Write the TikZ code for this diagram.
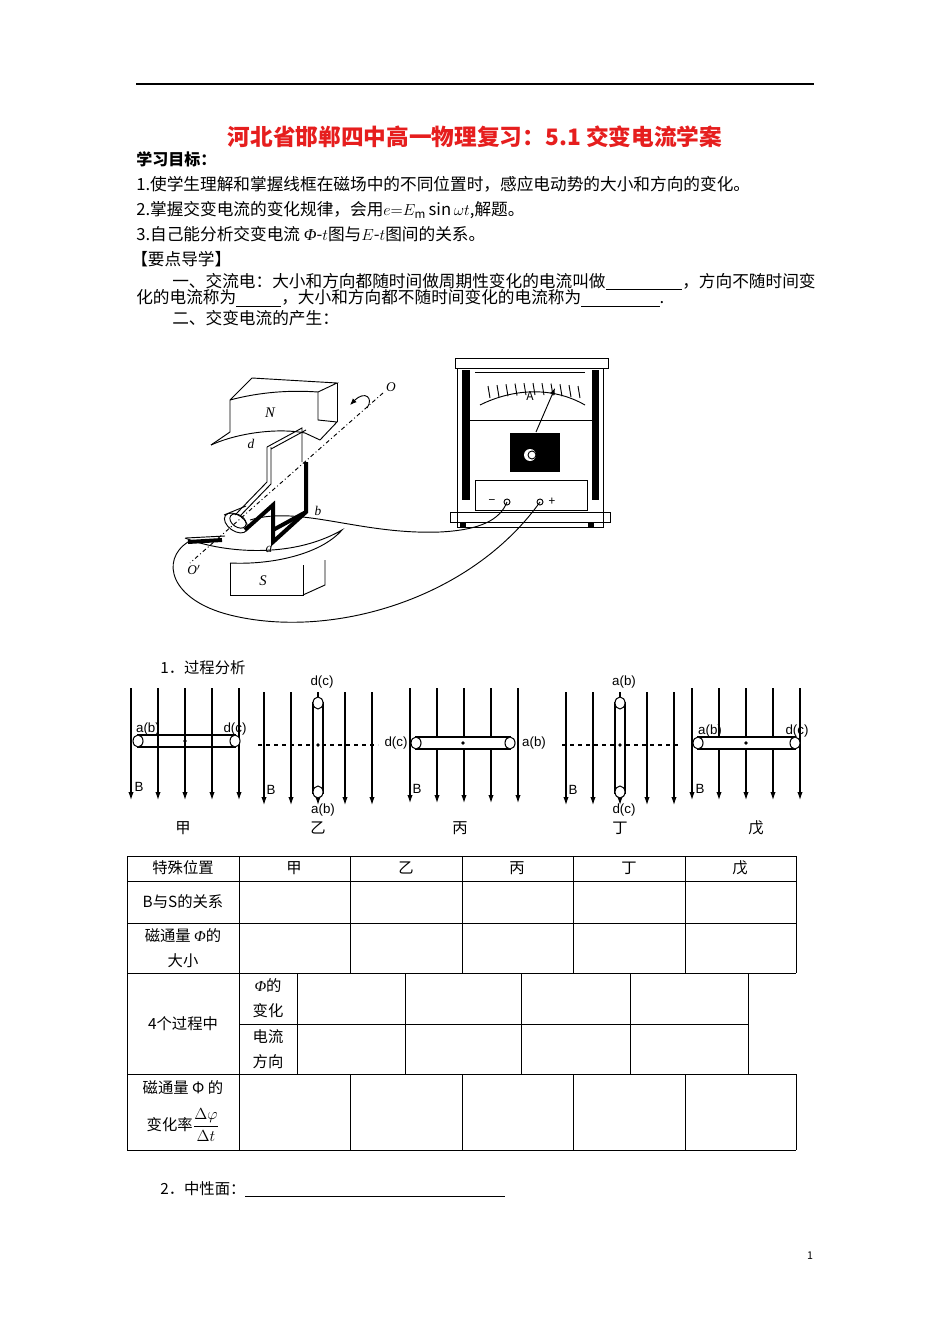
\documentclass[tikz,border=0pt]{standalone}
\usepackage{amsmath}
\usepackage{fontspec}
\setmainfont{Noto Sans CJK SC}
\newfontfamily\latinfont{Liberation Sans}
\newfontfamily\serifit{Liberation Serif}
\usetikzlibrary{arrows.meta}
\definecolor{titlered}{RGB}{230,30,30}
\newcommand{\myPhi}{{\serifit\itshape Φ}}
\begin{document}
\begin{tikzpicture}[x=0.75pt,y=-0.75pt,
  txt/.style={inner sep=0,anchor=base west,font=\fontsize{11.5}{13}\selectfont},
  body/.style={inner sep=0,anchor=base west,font=\fontsize{12.5}{14}\selectfont},
  lbl/.style={inner sep=0,font=\latinfont\fontsize{10}{12}\selectfont},
  fld/.style={-{Latex[length=6pt,width=4pt]},line width=0.8pt},
  tbl/.style={line width=0.7pt},
  coil/.style={line width=0.8pt}]
\useasboundingbox (0,0) rectangle (950,1344);
\fill[white] (0,0) rectangle (950,1344);
\draw[line width=0.8pt] (136,84) -- (814,84);
% title
\node[inner sep=0,text=titlered,font=\fontsize{17}{20}\selectfont\bfseries] (title) at (475,137) {河北省邯郸四中高一物理复习：5.1 交变电流学案};
\node[body,font=\fontsize{12}{13}\selectfont\bfseries] (g0) at (136,166) {学习目标：};
\node[body] (g1) at (136,191) {1.使学生理解和掌握线框在磁场中的不同位置时，感应电动势的大小和方向的变化。};
\node[body] (g2) at (136,216) {2.掌握交变电流的变化规律，会用$e{=}E_{\mathrm m}\sin\omega t$,解题。};
\node[body] (g3) at (136,241) {3.自己能分析交变电流 \myPhi-$t$图与$E$-$t$图间的关系。};
\node[body] (g4) at (131,266) {【要点导学】};
\node[body] (g5) at (172,287) {一、交流电：大小和方向都随时间做周期性变化的电流叫做\underline{\hspace{4.6em}}，方向不随时间变};
\node[body] (g6) at (136,304) {化的电流称为\underline{\hspace{2.7em}}，大小和方向都不随时间变化的电流称为\underline{\hspace{4.7em}}.};
\node[body] (g7) at (172,325) {二、交变电流的产生：};

% ===== apparatus =====
\begin{scope}[line width=0.7pt]
% N magnet
\draw (230,432) -- (230,400) .. controls (260,392) and (290,390) .. (318,392) -- (337,383) -- (252,378) -- (230,400);
\draw (318,392) -- (318,420) -- (337,422) -- (320,440);
\draw (337,383) -- (337,422);
\draw (211,445) .. controls (240,432) and (280,428) .. (305,433) -- (320,440);
\draw (211,445) -- (230,432);
\node[inner sep=0,font=\serifit\itshape\fontsize{11}{12}\selectfont] (nlab) at (270,413) {N};
% S magnet
\draw (185,538) .. controls (220,552) and (290,560) .. (342,530) .. controls (320,555) and (270,565) .. (230,563);
\draw (230,563) -- (230,595) -- (303,595) -- (303,565);
\draw (303,595) -- (325,585) -- (325,560);
\node[inner sep=0,font=\serifit\itshape\fontsize{11}{12}\selectfont] (slab) at (263,581) {S};
% coil
\draw (267,447) -- (267,482) -- (235,515);
\draw (271,447) -- (271,484) -- (240,516);
\draw (267,447) -- (302,428) -- (302,462);
\draw (271,449) -- (306,430);
\draw[line width=3pt] (306,462) -- (306,512) -- (273,542) -- (273,505) -- (245,530);
\draw[line width=3pt] (273,530) -- (306,512);
\node[inner sep=0,font=\serifit\itshape\fontsize{10}{12}\selectfont] (dlab) at (251,444) {d};
\node[inner sep=0,font=\serifit\itshape\fontsize{10}{12}\selectfont] (blab) at (318,511) {b};
\node[inner sep=0,font=\serifit\itshape\fontsize{10}{12}\selectfont] (alab) at (269,549) {a};
% axis
\draw[dash dot] (383,393) -- (190,563);
\node[inner sep=0,font=\serifit\itshape\fontsize{10}{12}\selectfont] (olab) at (391,387) {O};
\node[inner sep=0,font=\serifit\itshape\fontsize{10}{12}\selectfont] (oplab) at (194,570) {O$'$};
\draw[-{Latex[length=5pt,width=4pt]}] (367,408) .. controls (374,398) and (365,390) .. (350,405);
% slip ring
\draw[rotate around={-35:(236,523)}] (236,523) ellipse (13 and 8);
\draw[rotate around={-35:(238,521)}] (238,521) ellipse (9 and 6);
\draw (224,515) -- (246,506);
\draw[line width=3pt] (188,542) -- (222,540);
\draw (186,538) -- (225,536);
% wires
\draw (188,542) .. controls (160,560) and (170,600) .. (230,615) .. controls (330,640) and (470,600) .. (540,502);
\draw (250,520) .. controls (300,505) and (360,535) .. (440,532) .. controls (480,530) and (500,520) .. (507,502);
% ammeter
\draw (457,368) rectangle (603,527);
\draw (455,358) rectangle (608,368);
\fill (462,370) rectangle (470,500);
\fill (592,370) rectangle (599,500);
\draw (475,372) -- (585,372);
\draw (480,405) .. controls (510,390) and (550,385) .. (585,405);
\draw (470,420) -- (592,420);
\foreach \a in {0,...,10} \draw ({490+\a*9},{398-3*sin(\a*18)}) -- ({488+\a*9},{386-3*sin(\a*18)});
\node[inner sep=0,font=\fontsize{9}{10}\selectfont] (alabel) at (530,396) {A};
\draw[-{Latex[length=5pt,width=4pt]}] (536,432) -- (555,388);
\fill (510,433) rectangle (560,472);
\fill[white] (530,455) circle (6);
\draw (532,455) circle (4);
\draw (475,480) rectangle (587,510);
\node[inner sep=0,font=\fontsize{9}{10}\selectfont] (minus) at (492,502) {−};
\draw (507,502) circle (3);
\draw (540,502) circle (3);
\node[inner sep=0,font=\fontsize{9}{10}\selectfont] (plus) at (552,502) {+};
\draw (450,512) rectangle (610,522);
\fill (460,522) rectangle (466,528);
\fill (588,522) rectangle (594,528);
\end{scope}

% ===== process figure =====
\node[txt] (p1) at (160,673) {1．过程分析};
% jia
\foreach \x in {131,158,185,212,239} \draw[fld] (\x,688) -- (\x,800);
\draw[coil,fill=white] (137,735) -- (236,735) (137,747) -- (236,747);
\draw[coil,fill=white] (138,741) ellipse (5 and 6); \draw[coil,fill=white] (235,741) ellipse (5 and 6);
\fill (185,741) circle (1.8);
\node[lbl] (j1) at (148,729) {a(b)}; \node[lbl] (j2) at (235,729) {d(c)};
\node[lbl] (jb) at (139,787) {B};
\node[txt,anchor=center] (jn) at (183,828) {甲};
% yi
\foreach \x in {264,291,345,372} \draw[fld] (\x,692) -- (\x,805);
\draw[fld] (318,692) -- (318,805);
\draw[dashed,line width=0.8pt] (258,745) -- (378,745);
\draw[coil,fill=white] (313,703) rectangle (323,793);
\draw[coil,fill=white] (318,703) ellipse (5 and 6); \draw[coil,fill=white] (318,792) ellipse (5 and 6);
\fill (318,745) circle (1.8);
\node[lbl] (y1) at (322,682) {d(c)}; \node[lbl] (y2) at (323,810) {a(b)};
\node[lbl] (yb) at (271,790) {B};
\node[txt,anchor=center] (yn) at (318,828) {乙};
% bing
\foreach \x in {410,437,464,491,518} \draw[fld] (\x,688) -- (\x,803);
\draw[coil,fill=white] (416,737) rectangle (510,749);
\draw[coil,fill=white] (416,743) ellipse (5 and 6); \draw[coil,fill=white] (510,743) ellipse (5 and 6);
\fill (463,743) circle (1.8);
\node[lbl] (b1) at (396,743) {d(c)}; \node[lbl] (b2) at (534,743) {a(b)};
\node[lbl] (bb) at (417,789) {B};
\node[txt,anchor=center] (bn) at (460,828) {丙};
% ding
\foreach \x in {566,593,647,674} \draw[fld] (\x,692) -- (\x,805);
\draw[fld] (620,692) -- (620,805);
\draw[dashed,line width=0.8pt] (562,745) -- (680,745);
\draw[coil,fill=white] (615,703) rectangle (625,793);
\draw[coil,fill=white] (620,703) ellipse (5 and 6); \draw[coil,fill=white] (620,792) ellipse (5 and 6);
\fill (620,745) circle (1.8);
\node[lbl] (d1) at (624,682) {a(b)}; \node[lbl] (d2) at (624,810) {d(c)};
\node[lbl] (db) at (573,790) {B};
\node[txt,anchor=center] (dn) at (620,828) {丁};
% wu
\foreach \x in {692,719,746,773,800} \draw[fld] (\x,688) -- (\x,800);
\draw[coil,fill=white] (698,737) rectangle (795,749);
\draw[coil,fill=white] (698,743) ellipse (5 and 6); \draw[coil,fill=white] (795,743) ellipse (5 and 6);
\fill (746,743) circle (1.8);
\node[lbl] (w1) at (710,731) {a(b)}; \node[lbl] (w2) at (797,731) {d(c)};
\node[lbl] (wb) at (700,789) {B};
\node[txt,anchor=center] (wn) at (756,828) {戊};

% ===== table =====
\begin{scope}[tbl]
\draw (127,856) -- (796,856);
\draw (127,881) -- (796,881);
\draw (127,923) -- (796,923);
\draw (127,973) -- (796,973);
\draw (239,1024) -- (748,1024);
\draw (127,1074) -- (796,1074);
\draw (127,1150) -- (796,1150);
\draw (127,856) -- (127,1150);
\draw (239,856) -- (239,1150);
\foreach \x in {350,462,573,685,796} { \draw (\x,856) -- (\x,973); \draw (\x,1074) -- (\x,1150); }
\foreach \x in {297,405,521,630,748} \draw (\x,973) -- (\x,1074);
\end{scope}
\begin{scope}[every node/.style={inner sep=0,font=\fontsize{11.5}{13}\selectfont}]
\node (t00) at (183,868) {特殊位置};
\node (t01) at (294,868) {甲};
\node (t02) at (406,868) {乙};
\node (t03) at (517,868) {丙};
\node (t04) at (629,868) {丁};
\node (t05) at (740,868) {戊};
\node (t10) at (183,902) {B与S的关系};
\node (t20) at (183,936) {磁通量 \myPhi 的};
\node (t21) at (183,961) {大小};
\node (t30) at (183,1024) {4个过程中};
\node (t31) at (268,986) {\myPhi 的};
\node (t32) at (268,1011) {变化};
\node (t33) at (268,1037) {电流};
\node (t34) at (268,1062) {方向};
\node (t40) at (183,1088) {磁通量 Φ 的};
\node (t41) at (183,1125) {变化率$\dfrac{\Delta\varphi}{\Delta t}$};
\end{scope}
\node[txt] (q2) at (160,1194) {2．中性面：};
\draw[line width=0.5pt] (245,1196) -- (505,1196);
\node[inner sep=0,font=\fontsize{8}{10}\selectfont] (pg) at (810,1256) {1};
\end{tikzpicture}
\end{document}
